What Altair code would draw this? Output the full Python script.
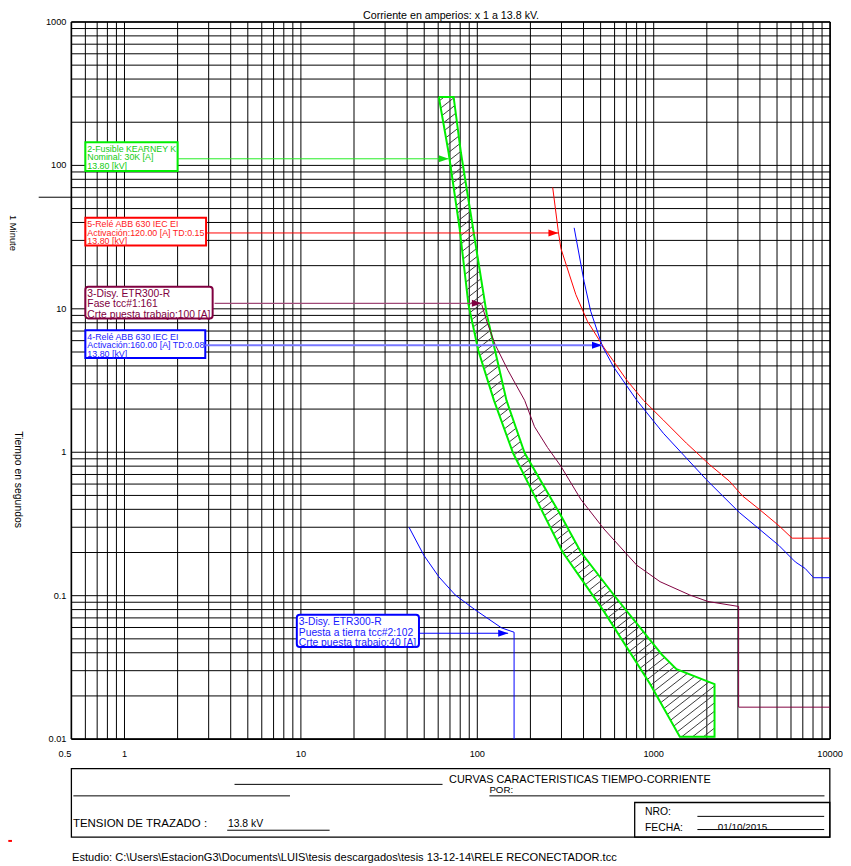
import math
import altair as alt
import pandas as pd

# ---------------- data ----------------
X_DOMAIN = [0.5, 10000]
Y_DOMAIN = [0.01, 1000]

x_grid = [0.5, 0.6, 0.7, 0.8, 0.9] + [m * 10 ** e for e in range(0, 4) for m in range(1, 10)] + [10000]
y_grid = [m * 10 ** e for e in range(-2, 3) for m in range(1, 10)] + [1000]
x_tick_vals = [1, 10, 100, 1000, 10000]
x_tick_labels = ["1", "10", "100", "1000", "10000"]
y_tick_vals = [0.01, 0.1, 1, 10, 100, 1000]
y_tick_labels = ["0.01", "0.1", "1", "10", "100", "1000"]

# 2-Fusible KEARNEY K 30K : minimum melt and total clearing
fuse_min_x = [60.5, 68.8, 79.4, 89.1, 101.4, 124.3, 159.5, 202.3, 304.3, 522, 954, 1406]
fuse_min_y = [300, 122, 36.2, 10.7, 5.10, 2.30, 0.987, 0.551, 0.2015, 0.0777, 0.0242, 0.0104]
fuse_tc_x = [73.4, 80.8, 101.4, 113.1, 128.7, 146.4, 185.5, 298.2, 386, 594, 1109, 1346, 2212, 2212]
fuse_tc_y = [300, 122, 21.3, 9.18, 4.58, 2.30, 0.987, 0.3605, 0.2015, 0.1011, 0.039, 0.0307, 0.0242, 0.0104]

# 5-Relé ABB 630 IEC EI 120 A TD 0.15
red_x = [267.5, 288, 298, 362, 420.6, 522, 705, 875, 1134, 1532, 2073, 2685, 3189, 3958, 5125, 6087, 10000]
red_y = [70.2, 34.4, 26.3, 12.55, 8.21, 5.37, 3.17, 2.30, 1.676, 1.157, 0.820, 0.629, 0.4955, 0.401, 0.3074, 0.2518, 0.2518]

# 4-Relé ABB 630 IEC EI 160 A TD 0.08
blue_x = [354, 403, 439.4, 510.5, 594, 802.5, 1134, 1984, 2462, 3056, 3958, 5125, 6353, 7228, 8059, 10000]
blue_y = [36.7, 15.5, 9.62, 5.52, 3.91, 2.30, 1.357, 0.646, 0.4955, 0.3806, 0.2919, 0.2239, 0.1718, 0.1546, 0.1334, 0.1334]

# 3-Disy. ETR300-R fase
mar_x = [106, 113.1, 125.9, 149.5, 185.5, 211, 250, 298, 386, 522, 802.5, 1086, 1601, 2028, 3029, 3029, 10000]
mar_y = [10.7, 8.21, 5.67, 3.71, 2.30, 1.507, 1.08, 0.798, 0.470, 0.292, 0.1629, 0.1252, 0.1011, 0.0911, 0.0841, 0.0167, 0.0167]

# 3-Disy. ETR300-R puesta a tierra
gnd_x = [41.0, 49.8, 60.5, 75.0, 97.2, 137.3, 161.6, 161.6]
gnd_y = [0.300, 0.191, 0.1355, 0.1011, 0.0797, 0.0596, 0.0556, 0.01]

# annotation boxes
lab_text = [
    "2-Fusible KEARNEY K\nNominal: 30K [A]\n13.80 [kV]",
    "5-Relé ABB 630 IEC EI\nActivación:120.00 [A] TD:0.15\n13.80 [kV]",
    "3-Disy.  ETR300-R\nFase tcc#1:161\nCrte puesta trabajo:100 [A]",
    "4-Relé ABB 630 IEC EI\nActivación:160.00 [A] TD:0.08\n13.80 [kV]",
    "3-Disy.  ETR300-R\n\u00a0Puesta a tierra tcc#2:102\nCrte puesta trabajo:40 [A]",
]
lab_x1 = [0.6, 0.6, 0.6, 0.6, 9.48]
lab_x2 = [2.0, 2.9, 3.16, 2.87, 46.7]
lab_ytop = [145, 43.1, 14.25, 7.085, 0.0736]
lab_ybot = [91.5, 27.6, 8.57, 4.54, 0.0439]
arrow_y = [111.2, 33.8, 10.93, 5.58, 0.0547]
arrow_start = [2.0, 2.9, 3.24, 2.87, 46.7]
arrow_tip = [68.8, 288, 106, 508.7, 149.5]
minute_line = [60]

# ---------------- styling / layout ----------------
W, H = 766, 724
FONT = "Liberation Sans"
GREEN, RED, BLUE, MAROON = "#00ee00", "#ff0000", "#0000ff", "#800040"
lab_stroke = [GREEN, RED, MAROON, BLUE, BLUE]
lab_textcol = ["#11cc11", "#ff1a1a", MAROON, "#2222ff", "#1a1aff"]
lab_size = [8.9, 8.95, 10.4, 8.95, 10.4]
lab_lh = [8.9, 8.6, 10.4, 8.8, 10.5]
lab_radius = [0, 0, 3, 0, 3]
arrow_col = ["#22ee22", RED, "#a04a78", "#7878ff", BLUE]
arrow_w = [1, 1, 1.2, 2, 1]

xs = alt.Scale(type="log", domain=X_DOMAIN, nice=False)
ys = alt.Scale(type="log", domain=Y_DOMAIN, nice=False)

LX0, LX1 = math.log10(X_DOMAIN[0]), math.log10(X_DOMAIN[1])
LY0, LY1 = math.log10(Y_DOMAIN[0]), math.log10(Y_DOMAIN[1])


def to_px(x, y):
    return ((math.log10(x) - LX0) / (LX1 - LX0) * W, (LY1 - math.log10(y)) / (LY1 - LY0) * H)


def from_px(u, v):
    return (10 ** (LX0 + u / W * (LX1 - LX0)), 10 ** (LY1 - v / H * (LY1 - LY0)))


dummy = alt.Data(values=[{"a": 1}])


def curve(xv, yv, color, width=1):
    df = pd.DataFrame({"x": xv, "y": yv, "i": range(len(xv))})
    return alt.Chart(df).mark_line(color=color, strokeWidth=width).encode(
        x=alt.X("x:Q", scale=xs, axis=None),
        y=alt.Y("y:Q", scale=ys, axis=None),
        order="i:Q",
    )


def hline(x1, x2, y, color="black", w=1):
    return alt.Chart(dummy).mark_rule(color=color, strokeWidth=w).encode(
        x=alt.value(x1), x2=alt.value(x2), y=alt.value(y))


def label(x, y, s, size=10, align="left", angle=0, color="black"):
    return alt.Chart(dummy).mark_text(text=s, fontSize=size, font=FONT, align=align,
                                      baseline="middle", angle=angle, color=color).encode(
        x=alt.value(x), y=alt.value(y))


layers = []

# grid
gx = pd.DataFrame({"v": x_grid})
gy = pd.DataFrame({"v": y_grid})
layers.append(alt.Chart(gx).mark_rule(color="#000000", strokeWidth=1).encode(
    x=alt.X("v:Q", scale=xs, axis=None)))
layers.append(alt.Chart(gy).mark_rule(color="#000000", strokeWidth=1).encode(
    y=alt.Y("v:Q", scale=ys, axis=None)))
frame_x = pd.DataFrame({"v": X_DOMAIN})
frame_y = pd.DataFrame({"v": Y_DOMAIN})
layers.append(alt.Chart(frame_x).mark_rule(color="#000000", strokeWidth=1.6).encode(
    x=alt.X("v:Q", scale=xs, axis=None)))
layers.append(alt.Chart(frame_y).mark_rule(color="#000000", strokeWidth=1.6).encode(
    y=alt.Y("v:Q", scale=ys, axis=None)))

# 1 minute marker
layers.append(alt.Chart(pd.DataFrame({"v": minute_line})).mark_rule(color="black", strokeWidth=1).encode(
    y=alt.Y("v:Q", scale=ys, axis=None), x=alt.value(-33), x2=alt.value(0)))

# tick labels
layers.append(alt.Chart(pd.DataFrame({"x": x_tick_vals, "t": x_tick_labels})).mark_text(
    fontSize=9.3, font=FONT, align="center", baseline="middle", color="black").encode(
    x=alt.X("x:Q", scale=xs, axis=None), y=alt.value(H + 15), text="t:N"))
layers.append(alt.Chart(pd.DataFrame({"x": [X_DOMAIN[0]], "t": ["0.5"]})).mark_text(
    fontSize=9.3, font=FONT, align="right", baseline="middle", color="black").encode(
    x=alt.X("x:Q", scale=xs, axis=None), y=alt.value(H + 15), text="t:N"))
layers.append(alt.Chart(pd.DataFrame({"y": y_tick_vals, "t": y_tick_labels})).mark_text(
    fontSize=9.3, font=FONT, align="right", baseline="middle", color="black").encode(
    y=alt.Y("y:Q", scale=ys, axis=None), x=alt.value(-5), text="t:N"))

# fuse hatch
poly = list(zip(fuse_min_x, fuse_min_y)) + list(reversed(list(zip(fuse_tc_x, fuse_tc_y))))
pts = [to_px(x, y) for x, y in poly]
K, STEP = 0.78, 8.5
fv = [v + K * u for u, v in pts]
hatch = []
c = min(fv) + STEP / 2
while c < max(fv):
    inter = []
    n = len(pts)
    for i in range(n):
        (u1, v1), (u2, v2) = pts[i], pts[(i + 1) % n]
        f1, f2 = v1 + K * u1 - c, v2 + K * u2 - c
        if (f1 > 0) != (f2 > 0):
            t = f1 / (f1 - f2)
            inter.append((u1 + t * (u2 - u1), v1 + t * (v2 - v1)))
    inter.sort()
    for j in range(0, len(inter) - 1, 2):
        a = from_px(*inter[j])
        b = from_px(*inter[j + 1])
        hatch.append({"x": a[0], "y": a[1], "x2": b[0], "y2": b[1]})
    c += STEP
layers.append(alt.Chart(pd.DataFrame(hatch)).mark_rule(color="#3a3a3a", strokeWidth=1).encode(
    x=alt.X("x:Q", scale=xs, axis=None), y=alt.Y("y:Q", scale=ys, axis=None),
    x2="x2:Q", y2="y2:Q"))

# curves
layers.append(curve([p[0] for p in poly] + [poly[0][0]], [p[1] for p in poly] + [poly[0][1]], GREEN, 2))
layers.append(curve(red_x, red_y, RED, 1))
layers.append(curve(blue_x, blue_y, BLUE, 1))
layers.append(curve(mar_x, mar_y, MAROON, 1))
layers.append(curve(gnd_x, gnd_y, BLUE, 1))

# annotation boxes, arrows, texts
ARROW = "M0,0L-1,-0.35L-1,0.35Z"
for k in range(len(lab_text)):
    box = pd.DataFrame({"x1": [lab_x1[k]], "x2": [lab_x2[k]], "y1": [lab_ytop[k]], "y2": [lab_ybot[k]]})
    layers.append(alt.Chart(box).mark_rect(fill="white", stroke=lab_stroke[k], strokeWidth=2,
                                           cornerRadius=lab_radius[k]).encode(
        x=alt.X("x1:Q", scale=xs, axis=None), x2="x2:Q",
        y=alt.Y("y1:Q", scale=ys, axis=None), y2="y2:Q"))
    txt = pd.DataFrame({"x": [lab_x1[k]], "y": [lab_ytop[k]], "t": [lab_text[k]]})
    layers.append(alt.Chart(txt).mark_text(lineBreak="\n", fontSize=lab_size[k], lineHeight=lab_lh[k],
                                           font=FONT, align="left", baseline="top",
                                           color=lab_textcol[k], dx=2, dy=2.5).encode(
        x=alt.X("x:Q", scale=xs, axis=None), y=alt.Y("y:Q", scale=ys, axis=None), text="t:N"))
    arr = pd.DataFrame({"x": [arrow_start[k]], "x2": [arrow_tip[k]], "y": [arrow_y[k]]})
    layers.append(alt.Chart(arr).mark_rule(color=arrow_col[k], strokeWidth=arrow_w[k]).encode(
        x=alt.X("x:Q", scale=xs, axis=None), x2="x2:Q", y=alt.Y("y:Q", scale=ys, axis=None)))
    tip = pd.DataFrame({"x": [arrow_tip[k]], "y": [arrow_y[k]]})
    layers.append(alt.Chart(tip).mark_point(shape=ARROW, filled=True, size=400, opacity=1,
                                            color=lab_stroke[k] if k != 0 else "#11dd11",
                                            strokeWidth=0).encode(
        x=alt.X("x:Q", scale=xs, axis=None), y=alt.Y("y:Q", scale=ys, axis=None)))

# axis titles
layers.append(label(383.3, -6.5, "Corriente en amperios: x 1 a 13.8 kV.", 10.8, "center"))
layers.append(label(-59.3, 213, "1 Minute", 9.5, "center", 90))
layers.append(label(-54, 462, "Tiempo en segundos", 10.5, "center", 90))

# title block
layers.append(alt.Chart(dummy).mark_rect(fill=None, stroke="black", strokeWidth=1.3).encode(
    x=alt.value(0), x2=alt.value(765.7), y=alt.value(753.7), y2=alt.value(823)))
layers.append(alt.Chart(dummy).mark_rect(fill=None, stroke="black", strokeWidth=1.3).encode(
    x=alt.value(568.7), x2=alt.value(765.7), y=alt.value(788), y2=alt.value(823)))
layers.append(hline(164.7, 374.7, 769.7))
layers.append(hline(2, 220.7, 781.3))
layers.append(hline(422, 760.3, 781.3))
layers.append(hline(632, 760, 802))
layers.append(hline(157.3, 260.7, 816))
layers.append(label(381.3, 765.8, "CURVAS CARACTERISTICAS TIEMPO-CORRIENTE", 11))
layers.append(label(422, 775.8, "POR:", 9.8))
layers.append(label(579, 798, "NRO:", 10.5))
layers.append(label(579, 813.7, "FECHA:", 10.5))
layers.append(label(677.5, 813, "01/10/2015", 10, "center"))
layers.append(hline(632, 760, 815.3))
layers.append(label(1.5, 809.7, "TENSION DE TRAZADO :", 11.6))
layers.append(label(158, 809.7, "13.8 kV", 10.5))
layers.append(label(0.7, 843.7, "Estudio: C:\\Users\\EstacionG3\\Documents\\LUIS\\tesis descargados\\tesis 13-12-14\\RELE  RECONECTADOR.tcc", 11.2))
layers.append(hline(-63.7, -60, 826.8, RED, 2))

chart = alt.layer(*layers).properties(
    width=W, height=H,
    padding={"left": 64, "top": 10, "right": 13, "bottom": 124},
    autosize=alt.AutoSizeParams(type="none"),
    background="white",
).configure_view(stroke=None)

chart.save("out.html", embed_options={"renderer": "svg", "actions": False})
